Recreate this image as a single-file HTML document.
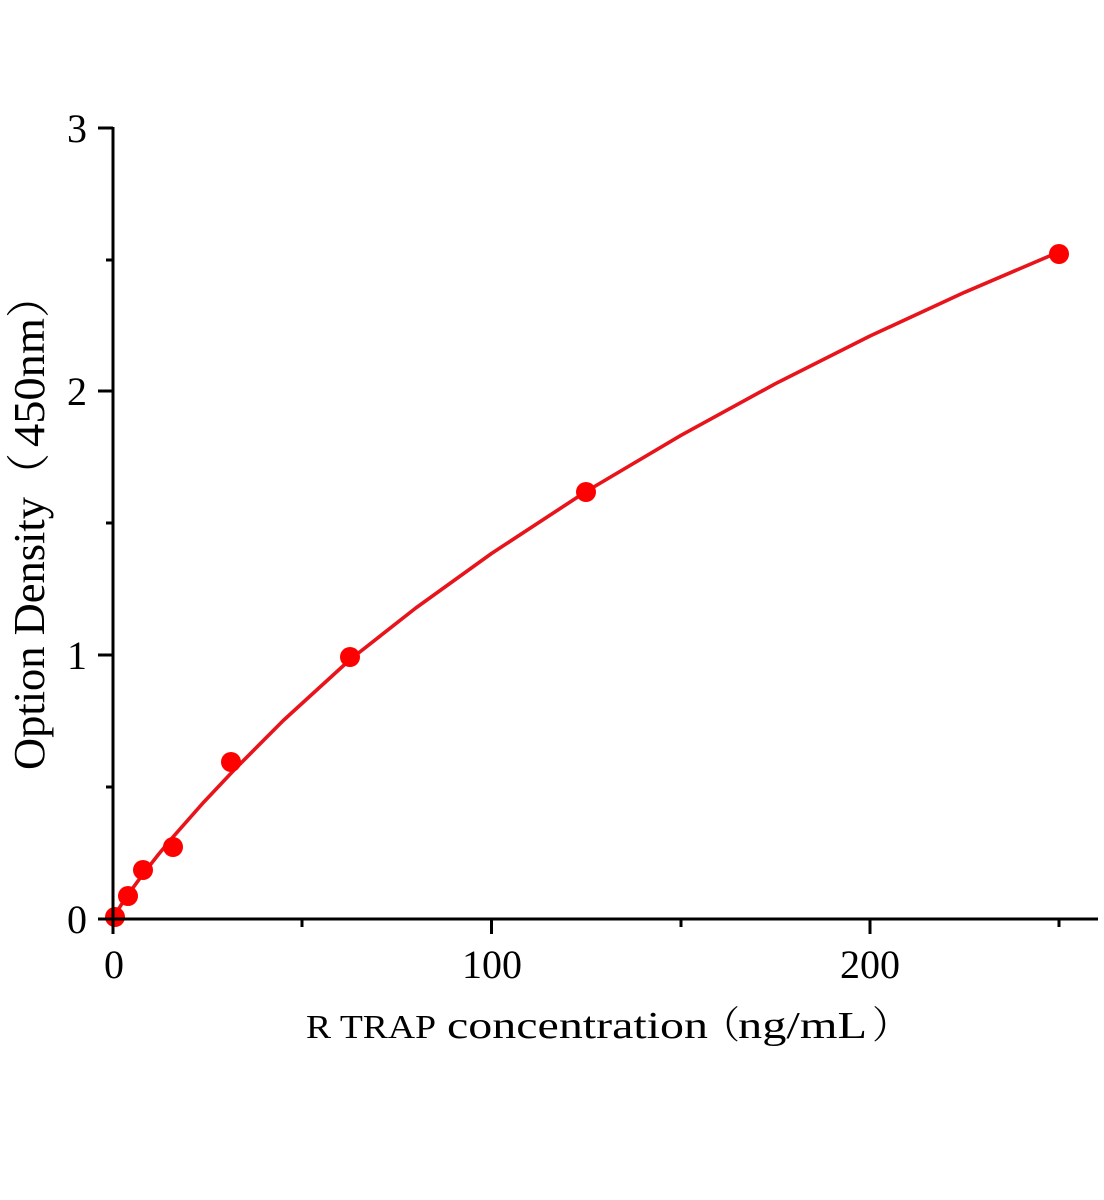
<!DOCTYPE html>
<html><head><meta charset="utf-8"><style>
html,body{margin:0;padding:0;background:#fff;}
svg{display:block;}
</style></head><body>
<svg width="1104" height="1200" viewBox="0 0 1104 1200" xmlns="http://www.w3.org/2000/svg">
<rect width="1104" height="1200" fill="#fff"/>
<!-- curve -->
<polyline fill="none" stroke="#e8141b" stroke-width="3.6" stroke-linejoin="round" points="113,919 116.8,911.9 120.6,905.8 128.1,894.5 143.3,873.7 158.4,854.5 173.6,836.3 203.8,802.1 234.1,770 283.3,720.5 349.6,660 415.8,608 491.5,553.5 586.1,491.5 680.8,435.4 775.4,383.7 870,336 964.6,292.3 1059.3,251.8"/>
<!-- dots -->
<g fill="#f00">
<circle cx="115" cy="917" r="10"/>
<circle cx="128" cy="896" r="10"/>
<circle cx="143" cy="870" r="10"/>
<circle cx="173" cy="847" r="10"/>
<circle cx="231" cy="762" r="10"/>
<circle cx="350" cy="657" r="10"/>
<circle cx="586" cy="492" r="10"/>
<circle cx="1059" cy="254" r="10"/>
</g>
<!-- axes -->
<g stroke="#000" stroke-width="3" fill="none">
<line x1="113" y1="127" x2="113" y2="934"/>
<line x1="98" y1="919" x2="1098" y2="919"/>
<line x1="98" y1="128" x2="113" y2="128"/>
<line x1="98" y1="391" x2="113" y2="391"/>
<line x1="98" y1="655" x2="113" y2="655"/>
<line x1="106" y1="260" x2="113" y2="260"/>
<line x1="106" y1="523" x2="113" y2="523"/>
<line x1="106" y1="787" x2="113" y2="787"/>
<line x1="491.5" y1="919" x2="491.5" y2="934"/>
<line x1="870" y1="919" x2="870" y2="934"/>
<line x1="302" y1="919" x2="302" y2="927"/>
<line x1="681" y1="919" x2="681" y2="927"/>
<line x1="1059" y1="919" x2="1059" y2="927"/>
</g>
<!-- tick labels -->
<g font-family="Liberation Serif, serif" font-size="40" fill="#000">
<text x="87" y="142" text-anchor="end">3</text>
<text x="87" y="405" text-anchor="end">2</text>
<text x="87" y="669" text-anchor="end">1</text>
<text x="87" y="933" text-anchor="end">0</text>
<text x="114" y="978" text-anchor="middle">0</text>
<text x="492" y="978" text-anchor="middle">100</text>
<text x="870" y="978" text-anchor="middle">200</text>
</g>
<!-- x title -->
<g fill="#000">
<text x="306" y="1038" font-family="Liberation Serif, serif" font-size="34" textLength="130" lengthAdjust="spacingAndGlyphs">R TRAP</text>
<text x="447" y="1038" font-family="Liberation Serif, serif" font-size="38" textLength="261" lengthAdjust="spacingAndGlyphs">concentration</text>
<text x="702" y="1038" font-family="Liberation Serif, 'Noto Serif CJK SC', serif" font-size="38">（</text>
<text x="738" y="1038" font-family="Liberation Serif, serif" font-size="38" textLength="129" lengthAdjust="spacingAndGlyphs">ng/mL</text>
<text x="872" y="1038" font-family="Liberation Serif, 'Noto Serif CJK SC', serif" font-size="38">）</text>
</g>
<!-- y title -->
<g fill="#000" font-family="Liberation Serif, 'Noto Serif CJK SC', serif" font-size="44">
<text transform="translate(44,770) rotate(-90)" textLength="273" lengthAdjust="spacingAndGlyphs">Option Density</text>
<text transform="translate(44,497) rotate(-90)">（</text>
<text transform="translate(44,447) rotate(-90)" textLength="129" lengthAdjust="spacingAndGlyphs">450nm</text>
<text transform="translate(44,318) rotate(-90)">）</text>
</g>
</svg>
</body></html>
